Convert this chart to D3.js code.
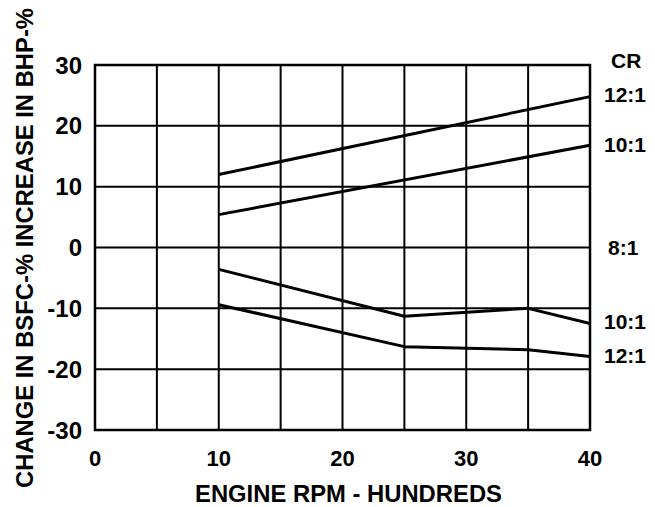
<!DOCTYPE html>
<html>
<head>
<meta charset="utf-8">
<script src="https://cdn.jsdelivr.net/npm/d3@7"></script>
<style>
  body { margin: 0; background: #fff; }
  text { font-family: "Liberation Sans", Arial, sans-serif; font-weight: bold; fill: #000; }
</style>
</head>
<body>
<svg id="chart" width="655" height="507"></svg>
<script>
// engine speed (hundreds of rpm) and curve values
const bhpRpm = [10, 40];
const bhp12 = [12.0, 24.8];
const bhp10 = [5.4, 16.8];

const bsfcRpm = [10, 25, 35, 40];
const bsfc10 = [-3.6, -11.3, -10.0, -12.5];
const bsfc12 = [-9.4, -16.3, -16.8, -17.9];

const xTicks = [0, 10, 20, 30, 40];
const yTicks = [-30, -20, -10, 0, 10, 20, 30];
const xGrid = [5, 10, 15, 20, 25, 30, 35];

// CR labels on the right side, placed at chart value
const crLabels = [
  { text: "12:1", v: 25.1 },
  { text: "10:1", v: 16.9 },
  { text: "8:1", v: 0 },
  { text: "10:1", v: -12.2 },
  { text: "12:1", v: -17.8 }
];

const svg = d3.select("#chart");
const x = d3.scaleLinear().domain([0, 40]).range([95, 590]);
const y = d3.scaleLinear().domain([-30, 30]).range([430, 65]);

// grid
svg.append("g").selectAll("line").data(xGrid).join("line")
  .attr("x1", d => x(d)).attr("x2", d => x(d))
  .attr("y1", y(30)).attr("y2", y(-30))
  .attr("stroke", "#000").attr("stroke-width", 2);

svg.append("g").selectAll("line").data(yTicks.slice(1, -1)).join("line")
  .attr("x1", x(0)).attr("x2", x(40))
  .attr("y1", d => y(d)).attr("y2", d => y(d))
  .attr("stroke", "#000").attr("stroke-width", 2);

// frame
svg.append("rect")
  .attr("x", x(0)).attr("y", y(30))
  .attr("width", x(40) - x(0)).attr("height", y(-30) - y(30))
  .attr("fill", "none").attr("stroke", "#000").attr("stroke-width", 2.5);

// curves
const line = d3.line().x(d => x(d[0])).y(d => y(d[1]));
const curves = [
  d3.zip(bhpRpm, bhp12),
  d3.zip(bhpRpm, bhp10),
  d3.zip(bsfcRpm, bsfc10),
  d3.zip(bsfcRpm, bsfc12)
];
svg.append("g").selectAll("path").data(curves).join("path")
  .attr("d", line)
  .attr("fill", "none").attr("stroke", "#000")
  .attr("stroke-width", 3).attr("stroke-linejoin", "round");

// y tick labels
svg.append("g").selectAll("text").data(yTicks).join("text")
  .attr("x", 82).attr("y", d => y(d))
  .attr("dy", "0.36em")
  .attr("text-anchor", "end")
  .style("font-size", "24px")
  .text(d => d);

// x tick labels
svg.append("g").selectAll("text").data(xTicks).join("text")
  .attr("x", d => x(d)).attr("y", 466)
  .attr("text-anchor", "middle")
  .style("font-size", "22px")
  .text(d => d);

// axis titles
svg.append("text")
  .attr("x", 195).attr("y", 502)
  .attr("textLength", 307).attr("lengthAdjust", "spacingAndGlyphs")
  .style("font-size", "23px")
  .text("ENGINE RPM - HUNDREDS");

svg.append("text")
  .attr("transform", "translate(33,488) rotate(-90)")
  .attr("textLength", 480).attr("lengthAdjust", "spacingAndGlyphs")
  .style("font-size", "24px")
  .text("CHANGE IN BSFC-% INCREASE IN BHP-%");

// CR labels
svg.append("text")
  .attr("x", 611).attr("y", 68)
  .style("font-size", "21px")
  .text("CR");

svg.append("g").selectAll("text").data(crLabels).join("text")
  .attr("x", d => d.text === "8:1" ? 608 : 604)
  .attr("y", d => y(d.v))
  .attr("dy", "0.36em")
  .style("font-size", "21px")
  .text(d => d.text);
</script>
</body>
</html>
